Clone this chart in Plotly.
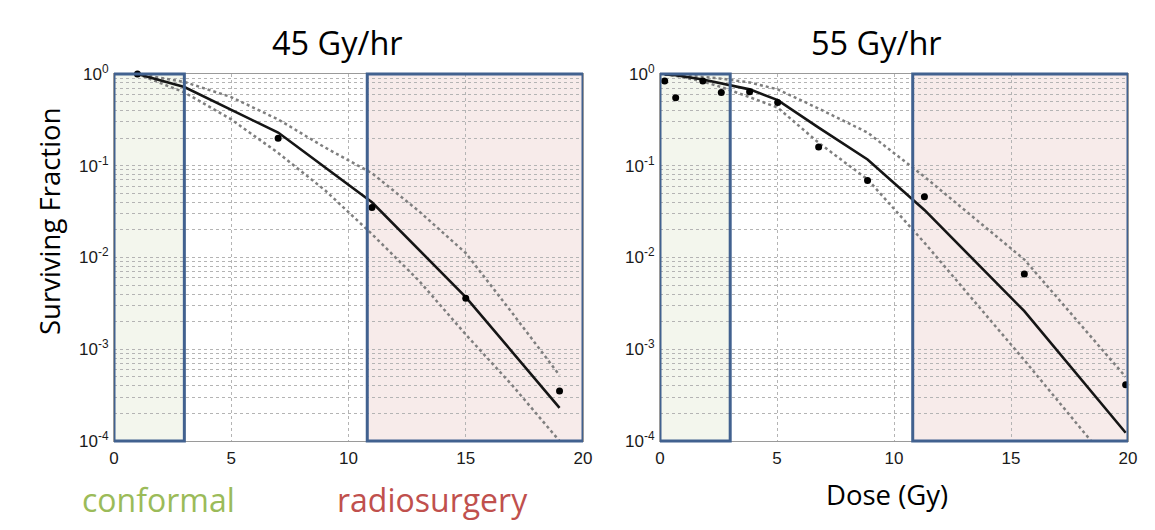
import plotly.graph_objects as go

# ---- 45 Gy/hr ----
dose45_pts = [1, 7, 11, 15, 19]
sf45_pts = [1.0, 0.20, 0.035, 0.0036, 3.5e-4]
dose45_fit = [1, 3, 7, 11, 15, 19]
sf45_fit = [1.0, 0.72, 0.23, 0.040, 0.0037, 2.3e-4]
dose45_band = [1, 3, 5, 7, 9, 11, 13, 15, 17, 19]
sf45_upper = [1.0, 0.82, 0.56, 0.32, 0.158, 0.083, 0.032, 0.0112, 0.00245, 5.2e-4]
sf45_lower = [1.0, 0.63, 0.32, 0.138, 0.054, 0.018, 0.0056, 0.00145, 4.0e-4, 1.0e-4]

# ---- 55 Gy/hr ----
dose55_pts = [0.2, 0.67, 1.83, 2.62, 3.83, 5.03, 6.78, 8.87, 11.3, 15.57, 19.9]
sf55_pts = [0.84, 0.55, 0.84, 0.63, 0.64, 0.49, 0.16, 0.069, 0.046, 0.0066, 4.1e-4]
dose55_fit = [0.2, 0.67, 1.83, 2.62, 3.83, 5.03, 6.78, 8.87, 11.3, 15.57, 19.9]
sf55_fit = [0.99, 0.97, 0.87, 0.79, 0.68, 0.52, 0.26, 0.117, 0.033, 0.0026, 1.23e-4]
sf55_upper = [1.0, 0.99, 0.93, 0.89, 0.81, 0.68, 0.42, 0.23, 0.076, 0.0095, 5.0e-4]
sf55_lower = [0.99, 0.955, 0.83, 0.72, 0.56, 0.43, 0.178, 0.071, 0.0145, 7.6e-4, 3.5e-5]

# treatment regimes (dose ranges, Gy)
conformal_range = [0, 3]
radiosurgery_range = [10.8, 20]

x_ticks = [0, 5, 10, 15, 20]
y_ticks = [1e-4, 1e-3, 1e-2, 1e-1, 1]
y_ticktext = ["10<sup>-4</sup>", "10<sup>-3</sup>", "10<sup>-2</sup>",
              "10<sup>-1</sup>", "10<sup>0</sup>"]

W, H = 1155, 530
panels = [
    dict(xa="x", ya="y", dom=(114, 583), title="45 Gy/hr", tx=337,
         pd=dose45_pts, ps=sf45_pts, fd=dose45_fit, fs=sf45_fit,
         bd=dose45_band, up=sf45_upper, lo=sf45_lower),
    dict(xa="x2", ya="y2", dom=(660, 1128), title="55 Gy/hr", tx=876,
         pd=dose55_pts, ps=sf55_pts, fd=dose55_fit, fs=sf55_fit,
         bd=dose55_fit, up=sf55_upper, lo=sf55_lower),
]
y_top, y_bot = 74, 441

fig = go.Figure()
band_style = dict(color="#7f7f7f", width=2.5, dash="dot")
for p in panels:
    fig.add_trace(go.Scatter(x=p["bd"], y=p["up"], mode="lines", line=band_style,
                             xaxis=p["xa"], yaxis=p["ya"], showlegend=False))
    fig.add_trace(go.Scatter(x=p["bd"], y=p["lo"], mode="lines", line=band_style,
                             xaxis=p["xa"], yaxis=p["ya"], showlegend=False))
    fig.add_trace(go.Scatter(x=p["fd"], y=p["fs"], mode="lines",
                             line=dict(color="#151515", width=2.6),
                             xaxis=p["xa"], yaxis=p["ya"], showlegend=False))
    fig.add_trace(go.Scatter(x=p["pd"], y=p["ps"], mode="markers",
                             marker=dict(color="black", size=7),
                             xaxis=p["xa"], yaxis=p["ya"], showlegend=False,
                             cliponaxis=False))

grid_col = "#b4b4b4"
axis_common = dict(showline=True, mirror=True, linecolor="#9a9a9a", linewidth=1,
                   zeroline=False, showgrid=True, gridcolor=grid_col, griddash="dot",
                   gridwidth=1, ticks="", automargin=False,
                   tickfont=dict(family="Liberation Sans", size=17, color="#1a1a1a"))
layout = dict(width=W, height=H, margin=dict(l=0, r=0, t=0, b=0, pad=0),
              paper_bgcolor="white", plot_bgcolor="white", showlegend=False)

shapes = []
annotations = []
for i, p in enumerate(panels):
    sfx = "" if i == 0 else "2"
    x0, x1 = p["dom"]
    layout["xaxis" + sfx] = dict(axis_common, domain=[x0 / W, x1 / W], range=[0, 20],
                                 tickvals=x_ticks, anchor="y" + sfx, ticklabelstandoff=2)
    layout["yaxis" + sfx] = dict(axis_common, type="log", range=[-4, 0],
                                 domain=[1 - y_bot / H, 1 - y_top / H],
                                 tickvals=y_ticks, ticktext=y_ticktext,
                                 anchor="x" + sfx, ticklabelstandoff=1,
                                 minor=dict(dtick="D1", showgrid=True, gridcolor=grid_col,
                                            griddash="dot", gridwidth=1))
    xr, yr = "x" + sfx, "y" + sfx + " domain"
    for rng, fill in ((conformal_range, "#f3f6ed"), (radiosurgery_range, "#f7ebea")):
        shapes.append(dict(type="rect", xref=xr, yref=yr, x0=rng[0], x1=rng[1],
                           y0=0, y1=1, fillcolor=fill, line=dict(width=0), layer="below"))
        shapes.append(dict(type="rect", xref=xr, yref=yr, x0=rng[0], x1=rng[1],
                           y0=0, y1=1, fillcolor="rgba(0,0,0,0)",
                           line=dict(color="#41618f", width=3), layer="above"))
    annotations.append(dict(text=p["title"], x=p["tx"] / W, y=1 - 43 / H, xref="paper",
                            yref="paper", showarrow=False, xanchor="center", yanchor="middle",
                            font=dict(family="Open Sans", size=32.5, color="black")))

text_font = "Open Sans"
annotations += [
    dict(text="Surviving Fraction", x=49 / W, y=1 - 221 / H, xref="paper", yref="paper",
         showarrow=False, textangle=-90, xanchor="center", yanchor="middle",
         font=dict(family=text_font, size=27.5, color="black")),
    dict(text="conformal", x=158 / W, y=1 - 499 / H, xref="paper", yref="paper",
         showarrow=False, xanchor="center", yanchor="middle",
         font=dict(family=text_font, size=32, color="#9bbb59")),
    dict(text="radiosurgery", x=432 / W, y=1 - 499 / H, xref="paper", yref="paper",
         showarrow=False, xanchor="center", yanchor="middle",
         font=dict(family=text_font, size=32, color="#c0504d")),
    dict(text="Dose (Gy)", x=887 / W, y=1 - 494 / H, xref="paper", yref="paper",
         showarrow=False, xanchor="center", yanchor="middle",
         font=dict(family=text_font, size=27.5, color="black")),
]
layout["shapes"] = shapes
layout["annotations"] = annotations
fig.update_layout(**layout)

fig.write_html("out.html")
